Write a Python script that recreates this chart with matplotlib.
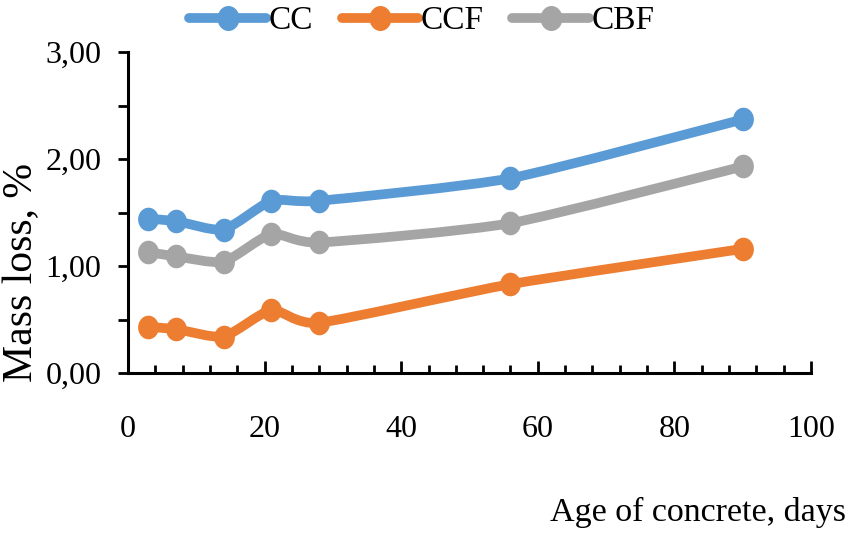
import numpy as np
import matplotlib
matplotlib.use("Agg")
import matplotlib.pyplot as plt
from matplotlib.path import Path
from matplotlib.patches import PathPatch
from matplotlib.lines import Line2D
from matplotlib.ticker import MultipleLocator, FuncFormatter

days = [3, 7, 14, 21, 28, 56, 90]
series_names = ["CC", "CCF", "CBF"]
cc = [1.44, 1.42, 1.34, 1.61, 1.61, 1.82, 2.37]
ccf = [0.43, 0.41, 0.34, 0.59, 0.47, 0.83, 1.16]
cbf = [1.13, 1.09, 1.04, 1.30, 1.22, 1.40, 1.93]
colors = ["#5B9BD5", "#ED7D31", "#A5A5A5"]

plt.rcParams['font.family'] = ['Liberation Serif', 'DejaVu Serif']

fig = plt.figure(figsize=(8.5, 5.36), dpi=100)
ax = fig.add_axes([128/850, 1-373/536, (811-128)/850, (373-52)/536])

# ellipse marker (slightly tall, as in the reference)
t = np.linspace(0, 2*np.pi, 60)
ell = Path(np.column_stack([0.88*np.cos(t), np.sin(t)]), closed=True)


def smooth_path(x, y, k=0.1):
    pts = np.column_stack([x, y]).astype(float)
    n = len(pts)
    verts = [pts[0]]
    codes = [Path.MOVETO]
    for i in range(n - 1):
        p0 = pts[i-1] if i > 0 else pts[i]
        p1 = pts[i]
        p2 = pts[i+1]
        p3 = pts[i+2] if i + 2 < n else pts[i+1]
        c1 = p1 + (p2 - p0) * k
        c2 = p2 - (p3 - p1) * k
        verts += [c1, c2, p2]
        codes += [Path.CURVE4] * 3
    return Path(verts, codes)


handles = []
for name, vals, col in zip(series_names, [cc, ccf, cbf], colors):
    patch = PathPatch(smooth_path(days, vals), fill=False, edgecolor=col,
                      lw=7, capstyle='round', joinstyle='round', zorder=3)
    ax.add_patch(patch)
    ax.plot(days, vals, ls='none', marker=ell, markersize=17, color=col,
            markeredgewidth=0, zorder=4)
    handles.append(Line2D([0], [0], color=col, lw=7, marker=ell,
                          markersize=18, markeredgewidth=0,
                          solid_capstyle='round', label=name))

ax.set_xlim(0, 100)
ax.set_ylim(0, 3)
for s in ['top', 'right']:
    ax.spines[s].set_visible(False)
for s in ['left', 'bottom']:
    ax.spines[s].set_linewidth(2.2)
    ax.spines[s].set_color('black')

ax.xaxis.set_major_locator(MultipleLocator(20))
ax.xaxis.set_minor_locator(MultipleLocator(4))
ax.yaxis.set_major_locator(MultipleLocator(1))
ax.yaxis.set_minor_locator(MultipleLocator(0.5))
ax.yaxis.set_major_formatter(FuncFormatter(lambda v, p: f"{v:.2f}".replace('.', ',')))

ax.tick_params(axis='x', which='major', direction='in', length=9, width=2,
               labelsize=23, pad=30)
ax.tick_params(axis='x', which='minor', direction='in', length=5.5, width=2)
ax.tick_params(axis='y', which='both', direction='out', length=7, width=2,
               labelsize=23, pad=12)

fig.text(22/850, 1-272/536, "Mass loss, %", rotation=90, fontsize=30,
         ha='center', va='center')
fig.text(846/850, 1-512/536, "Age of concrete, days", fontsize=24.5,
         ha='right', va='center')

fig.legend(handles=handles, loc='center', bbox_to_anchor=(422/850, 1-21/536),
           ncol=3, frameon=False, fontsize=24, handlelength=2.3,
           columnspacing=0.85, handletextpad=0.08, borderpad=0)

fig.savefig("out.png", dpi=100)
